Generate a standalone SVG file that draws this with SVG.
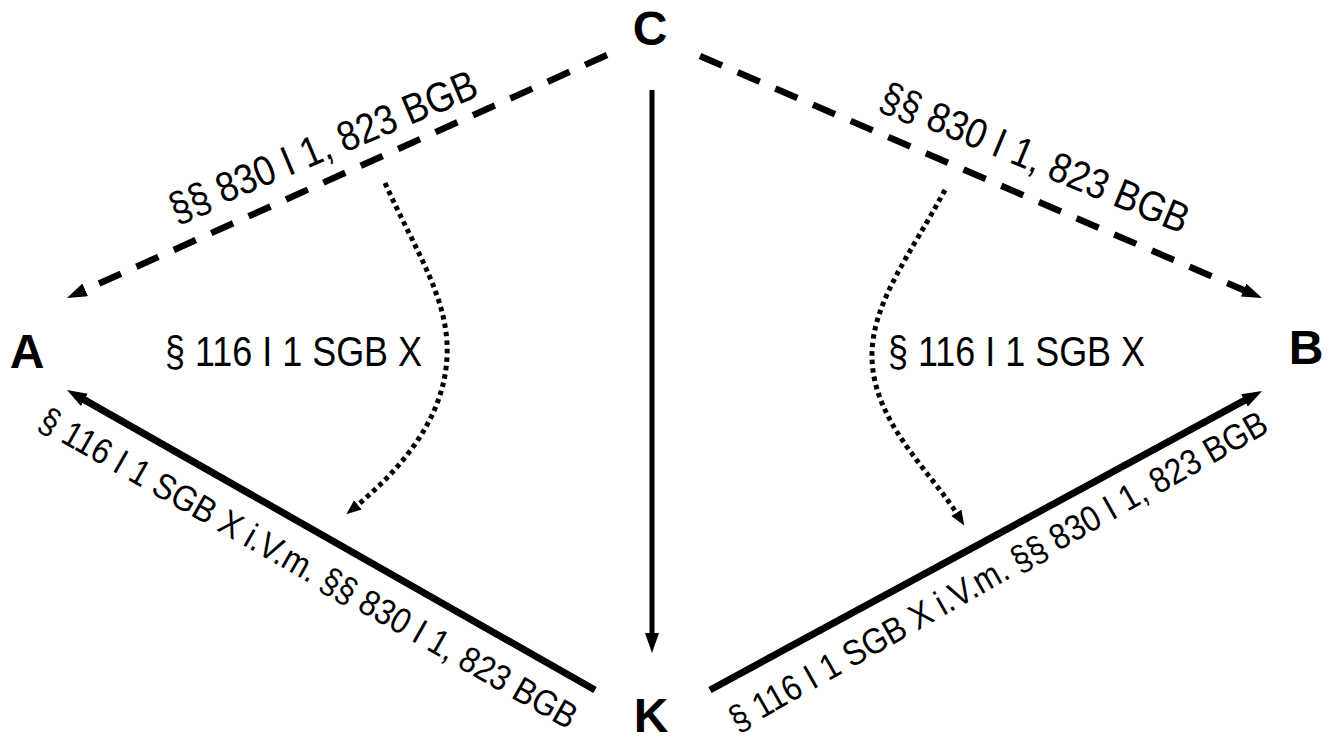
<svg xmlns="http://www.w3.org/2000/svg" width="1332" height="740" viewBox="0 0 1332 740">
<style>
.node{font-family:"Liberation Sans",Arial,sans-serif;font-weight:bold;font-size:48px;fill:#000;text-anchor:middle}
.lbl{font-family:"Liberation Sans",Arial,sans-serif;fill:#000}
.solid{fill:none;stroke:#000;stroke-width:7}
.vert{fill:none;stroke:#000;stroke-width:5}
.dash{fill:none;stroke:#000;stroke-width:6.5;stroke-dasharray:24 17}
.dot{fill:none;stroke:#000;stroke-width:5;stroke-dasharray:4.5 4}
</style>
<defs>
<marker id="ah" markerUnits="userSpaceOnUse" markerWidth="22" markerHeight="16" refX="8" refY="7" orient="auto" viewBox="0 0 22 16">
<path d="M0,0 L20,7 L0,14 z" fill="#000"/>
</marker>
<marker id="ahs" markerUnits="userSpaceOnUse" markerWidth="16" markerHeight="14" refX="5" refY="6" orient="auto" viewBox="0 0 16 14">
<path d="M0,0 L15,6 L0,12 z" fill="#000"/>
</marker>
</defs>
<g id="connectors">
<path class="dash" d="M607,55 L77.9,293.1" marker-end="url(#ah)"/>
<path class="dash" d="M700,56 L1251,293.3" marker-end="url(#ah)"/>
<path class="vert" d="M652,90 L652,641" marker-end="url(#ah)"/>
<path class="solid" d="M595,690 L77.4,395.9" marker-end="url(#ah)"/>
<path class="solid" d="M710,690 L1251.5,396.7" marker-end="url(#ah)"/>
<path class="dot" d="M385,183 C415,250 450,300 447,357 C444,420 400,470 354,508" marker-end="url(#ahs)"/>
<path class="dot" d="M945,190 C910,255 874,300 872,352 C870,420 930,470 959,517" marker-end="url(#ahs)"/>
<text class="lbl" font-size="42" text-anchor="middle" transform="translate(336,177) rotate(-22.8)" y="-19" textLength="330" lengthAdjust="spacingAndGlyphs">§§ 830 I 1, 823 BGB</text>
<text class="lbl" font-size="42" text-anchor="middle" transform="translate(1020,194) rotate(22.5)" y="-25" textLength="330" lengthAdjust="spacingAndGlyphs">§§ 830 I 1, 823 BGB</text>
<text class="lbl" font-size="43" x="165" y="366" textLength="257" lengthAdjust="spacingAndGlyphs">§ 116 I 1 SGB X</text>
<text class="lbl" font-size="43" x="888" y="366" textLength="257" lengthAdjust="spacingAndGlyphs">§ 116 I 1 SGB X</text>
<text class="lbl" font-size="36" text-anchor="middle" transform="translate(326,537.2) rotate(29.6)" y="48" textLength="612" lengthAdjust="spacingAndGlyphs">§ 116 I 1 SGB X i.V.m. §§ 830 I 1, 823 BGB</text>
<text class="lbl" font-size="36" text-anchor="middle" transform="translate(982,542.6) rotate(-29.5)" y="45" textLength="612" lengthAdjust="spacingAndGlyphs">§ 116 I 1 SGB X i.V.m. §§ 830 I 1, 823 BGB</text>
</g>
<g id="node-C"><text class="node" x="650" y="45">C</text></g>
<g id="node-A"><text class="node" x="27" y="368">A</text></g>
<g id="node-B"><text class="node" x="1306" y="364">B</text></g>
<g id="node-K"><text class="node" x="651" y="732">K</text></g>
</svg>
